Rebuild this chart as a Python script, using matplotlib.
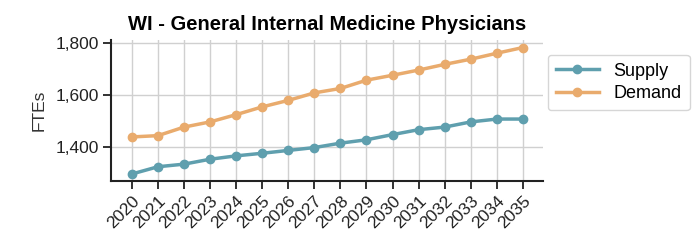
import matplotlib
matplotlib.use("Agg")
import matplotlib.pyplot as plt
from matplotlib.ticker import FuncFormatter

# data
years = list(range(2020, 2036))
supply = [1295, 1323, 1333, 1352, 1365, 1375, 1386, 1397, 1414, 1427,
          1447, 1466, 1476, 1496, 1507, 1507]
demand = [1438, 1443, 1476, 1496, 1524, 1554, 1579, 1608, 1625, 1657,
          1676, 1696, 1718, 1738, 1761, 1783]

plt.rcParams['font.family'] = ['Arial', 'Liberation Sans', 'DejaVu Sans']

fig = plt.figure(figsize=(6.96, 2.43), dpi=100)
ax = fig.add_axes([111 / 696, 1 - 181 / 243, (543 - 111) / 696, (181 - 40) / 243])

ax.plot(years, supply, color='#5f9fae', marker='o', markersize=6, linewidth=2.5, label='Supply')
ax.plot(years, demand, color='#e9ab6d', marker='o', markersize=6, linewidth=2.5, label='Demand')

ax.set_xlim(2019.2, 2035.77)
ax.set_ylim(1268, 1812)
ax.set_yticks([1400, 1600, 1800])
ax.yaxis.set_major_formatter(FuncFormatter(lambda v, p: f"{int(v):,}"))
ax.set_xticks(years)
ax.set_xticklabels([str(y) for y in years], rotation=45, ha='right', rotation_mode='anchor')

ax.grid(True, color='#d0d0d0', linewidth=1)
ax.set_axisbelow(True)
for s in ['top', 'right']:
    ax.spines[s].set_visible(False)
for s in ['left', 'bottom']:
    ax.spines[s].set_color('#222222')
    ax.spines[s].set_linewidth(1.5)
ax.tick_params(axis='both', labelsize=12.5, color='#222222', width=1.3, length=6, colors='#222222')
ax.tick_params(axis='x', pad=3)
ax.tick_params(axis='y', pad=3)

ax.set_ylabel('FTEs', fontsize=12.5, color='#333333', labelpad=6)
ax.set_title('WI - General Internal Medicine Physicians', fontsize=14.5, fontweight='bold', pad=7)

ax.legend(loc='upper left', bbox_to_anchor=(0.99, 0.96), fontsize=13, frameon=True,
          edgecolor='#cccccc', handlelength=2.4, borderpad=0.45, labelspacing=0.3)

fig.savefig('out.png', dpi=100)
